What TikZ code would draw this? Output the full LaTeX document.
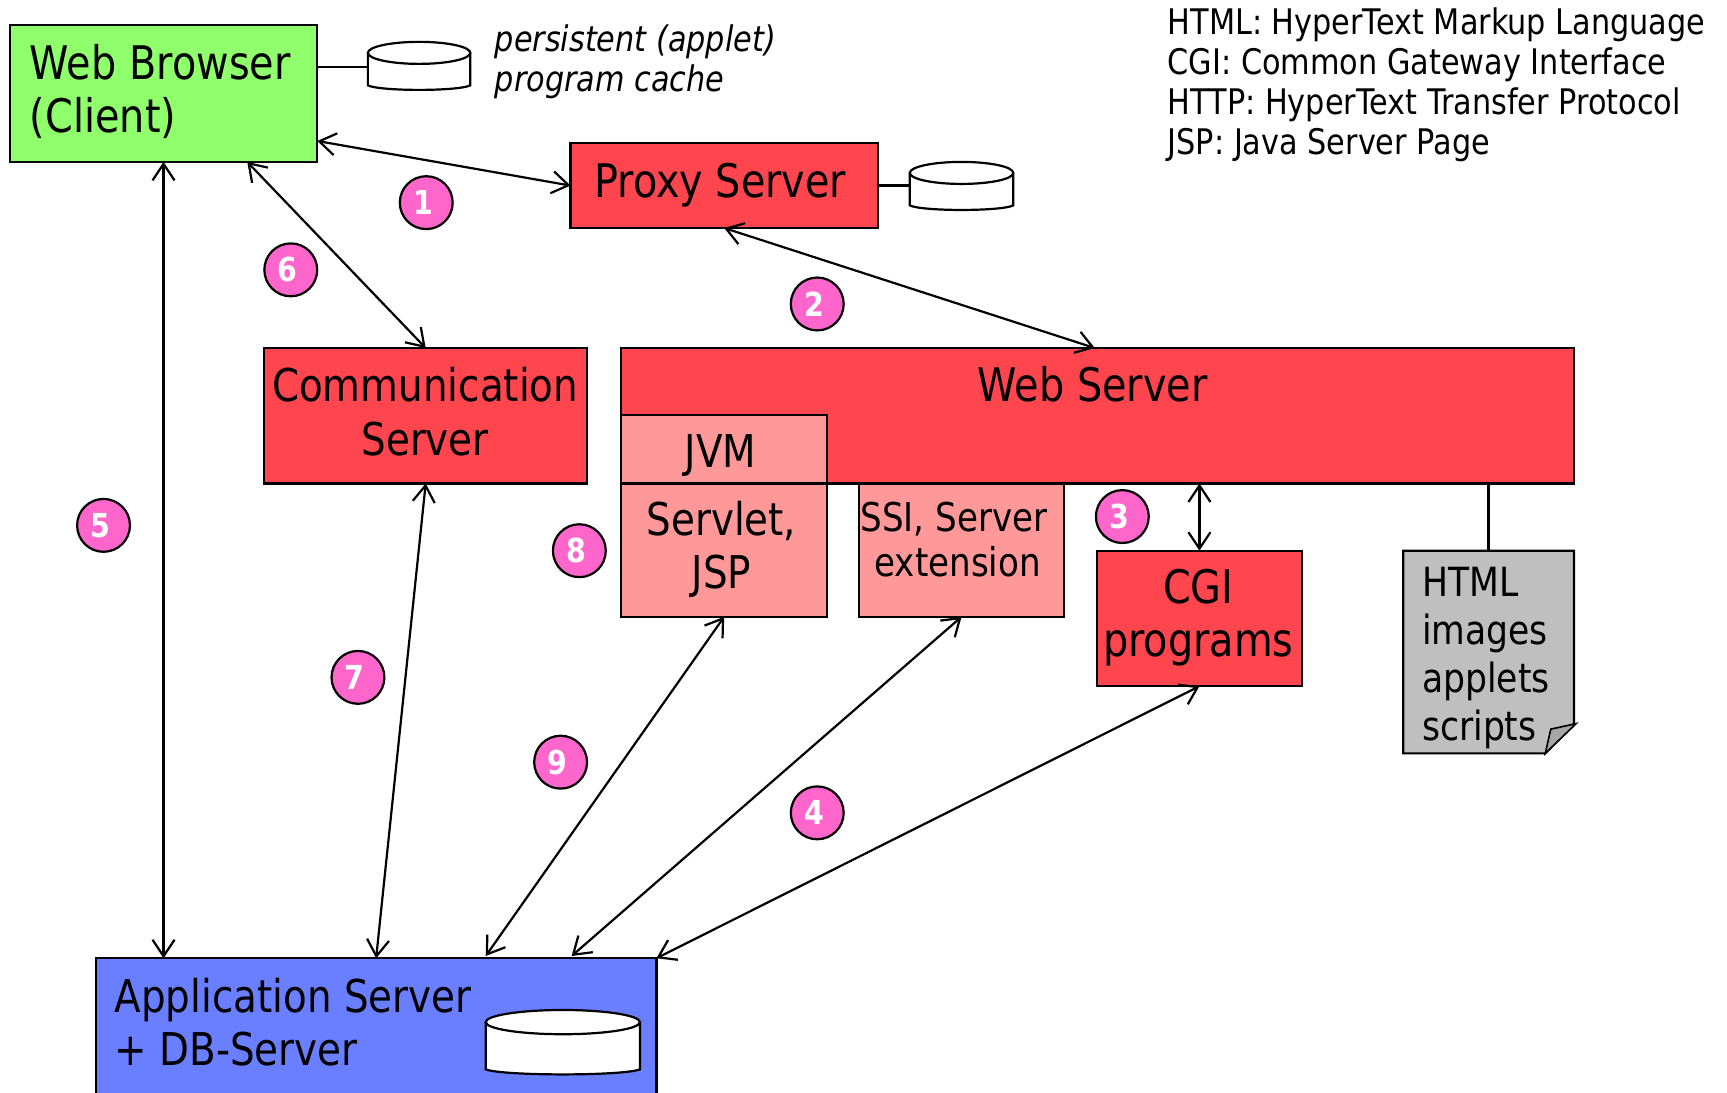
\documentclass[tikz,border=0pt]{standalone}
\usepackage{fontspec}
\setmainfont{DejaVu Sans}[FakeStretch=0.86]
\usetikzlibrary{arrows.meta,calc}
\definecolor{cgreen}{HTML}{8FFF6C}
\definecolor{cred}{HTML}{FF464F}
\definecolor{clight}{HTML}{FF9999}
\definecolor{cblue}{HTML}{6A7FFF}
\definecolor{cgray}{HTML}{BFBFBF}
\definecolor{cfold}{HTML}{A6A6A6}
\definecolor{cpink}{HTML}{FF66CC}
\tikzset{
  box/.style={draw=black,line width=2pt,anchor=north west,inner sep=0pt,outer sep=0pt,align=center},
  big/.style={font=\fontsize{42}{48}\selectfont,inner sep=0pt,align=center},
  mid/.style={font=\fontsize{36}{41}\selectfont,inner sep=0pt,align=center},
  legend/.style={font=\fontsize{32}{36.3}\selectfont,anchor=north west,inner sep=0pt,align=left},
  note/.style={font=\fontsize{32}{36.5}\selectfont\itshape,anchor=north west,inner sep=0pt,align=left},
  badge/.style={circle,draw=black,line width=2pt,fill=cpink,minimum size=48pt,inner sep=0pt,text=white,font=\fontsize{30}{30}\selectfont\bfseries},
  link/.style={line width=2pt},
  both/.style={link,{Straight Barb[length=15pt,width=20pt,line width=2pt]}-{Straight Barb[length=15pt,width=20pt,line width=2pt]}},
  hidden/.style={anchor=north west,inner sep=0pt,outer sep=0pt}
}
\newcommand{\dbcyl}[6]{% name, x, y, w, h, ry
  \node[hidden,minimum width=#4pt,minimum height=#5pt] (#1) at (#2,#3) {};
  \draw[line width=2pt,fill=white]
    (#1.north west) ++(0,-#6pt)
    -- ($(#1.south west)+(0,#6pt*0.55)$)
    .. controls ($(#1.south west)+(#4pt*0.12,-0pt)$) and ($(#1.south east)+(-#4pt*0.12,-0pt)$) .. ($(#1.south east)+(0,#6pt*0.55)$)
    -- ($(#1.north east)+(0,-#6pt)$);
  \draw[line width=2pt,fill=white] ($(#1.north)+(0,-#6pt)$) ellipse [x radius=#4pt/2,y radius=#6pt];
}
\newcommand{\dgt}[1]{#1\kern6pt}
\begin{document}
\begin{tikzpicture}[x=1pt,y=-1pt]
\clip (0,0) rectangle (1568,992);
\fill[white] (0,0) rectangle (1568,992);

% boxes
\node[box,fill=cgreen,minimum width=279pt,minimum height=124pt] (wb) at (9,23) {};
\node[big,anchor=west,align=left] (wbt) at (27,83) {Web Browser\\(Client)};
\node[box,fill=cred,minimum width=279pt,minimum height=77pt] (proxy) at (518,130) {};
\node[big] (proxyt) at (654,168) {Proxy Server};
\node[box,fill=cred,minimum width=293pt,minimum height=123pt] (comm) at (240,316) {};
\node[big,font=\fontsize{41}{49}\selectfont] (commt) at (386,374) {Communication\\Server};
\node[box,fill=cred,minimum width=865pt,minimum height=123pt] (ws) at (564,316) {};
\node[big] (wst) at (992,349) {Web Server};
\node[box,fill=clight,minimum width=187pt,minimum height=62pt] (jvm) at (564,377) {};
\node[big,font=\fontsize{41}{48}\selectfont] (jvmt) at (654,414) {JVM};
\node[box,fill=clight,minimum width=187pt,minimum height=121pt] (servlet) at (564,439) {};
\node[big,font=\fontsize{41}{48}\selectfont] (servlett) at (655,499) {Servlet,\\JSP};
\node[box,fill=clight,minimum width=186pt,minimum height=121pt] (ssi) at (780,439) {};
\node[mid] (ssit) at (869.5,490) {SSI, Server\hspace*{7pt}\\extension};
\node[box,fill=cred,minimum width=186pt,minimum height=123pt] (cgi) at (996,500) {};
\node[big] (cgit) at (1088,561) {CGI\\programs};
\node[box,fill=cblue,minimum width=509pt,minimum height=130pt] (app) at (87,870) {};
\node[big,anchor=west,align=left,font=\fontsize{41}{48}\selectfont] (appt) at (104,928) {Application Server\\+ DB-Server};

% document
\draw[line width=2pt,fill=cgray] (1274,500) -- (1429,500) -- (1429,657) -- (1403,684) -- (1274,684) -- cycle;
\draw[line width=1.5pt,fill=cfold] (1403,684) -- (1408,662) -- (1431,657) -- cycle;
\node[hidden,minimum width=155pt,minimum height=184pt] (doc) at (1274,500) {};
\node[anchor=north west,inner sep=0pt,align=left,font=\fontsize{36.5}{43.5}\selectfont] (doct) at (1291,515) {HTML\\images\\applets\\scripts};

% caches
\dbcyl{c1}{334}{38}{93}{45}{10}
\dbcyl{c2}{826}{147}{94}{45}{10}
\dbcyl{c3}{441}{917}{140}{60}{11}

% texts
\node[note] (cachet) at (449,22) {persistent (applet)\\program cache};
\node[legend] (leg) at (1060,7) {HTML: HyperText Markup Language\\CGI: Common Gateway Interface\\HTTP: HyperText Transfer Protocol\\JSP: Java Server Page};

% plain links
\draw[link] (c1.west -| wb.east) -- (c1.west);
\draw[link] (proxy.east) -- (proxy.east -| c2.west);
\draw[link] (ws.south -| doc.north) -- (doc.north);

% double arrows
\draw[both] ([yshift=-43pt]wb.east) -- (proxy.west);
\draw[both] (proxy.south) -- ([xshift=-2.5pt]ws.north);
\draw[both] (cgi.north |- ws.south) -- (cgi.north);
\draw[both] (cgi.south) -- (app.north east);
\draw[both] (wb.south) -- (wb.south |- app.north);
\draw[both] ([xshift=76pt]wb.south) -- (comm.north);
\draw[both] (comm.south) -- (app.north);
\draw[both] (servlet.south) -- ([xshift=99.5pt,yshift=2pt]app.north);
\draw[both] (ssi.south) -- ([xshift=177.5pt,yshift=2pt]app.north);

% badges
\node[badge] (b1) at (387,184) {\dgt{1}};
\node[badge] (b2) at (742,276) {\dgt{2}};
\node[badge] (b3) at (1019,469) {\dgt{3}};
\node[badge] (b4) at (742,738) {\dgt{4}};
\node[badge] (b5) at (94,477) {\dgt{5}};
\node[badge] (b6) at (264,245) {\dgt{6}};
\node[badge] (b7) at (325,615) {\dgt{7}};
\node[badge] (b8) at (526,500) {\dgt{8}};
\node[badge] (b9) at (509,692) {\dgt{9}};
\end{tikzpicture}
\end{document}
